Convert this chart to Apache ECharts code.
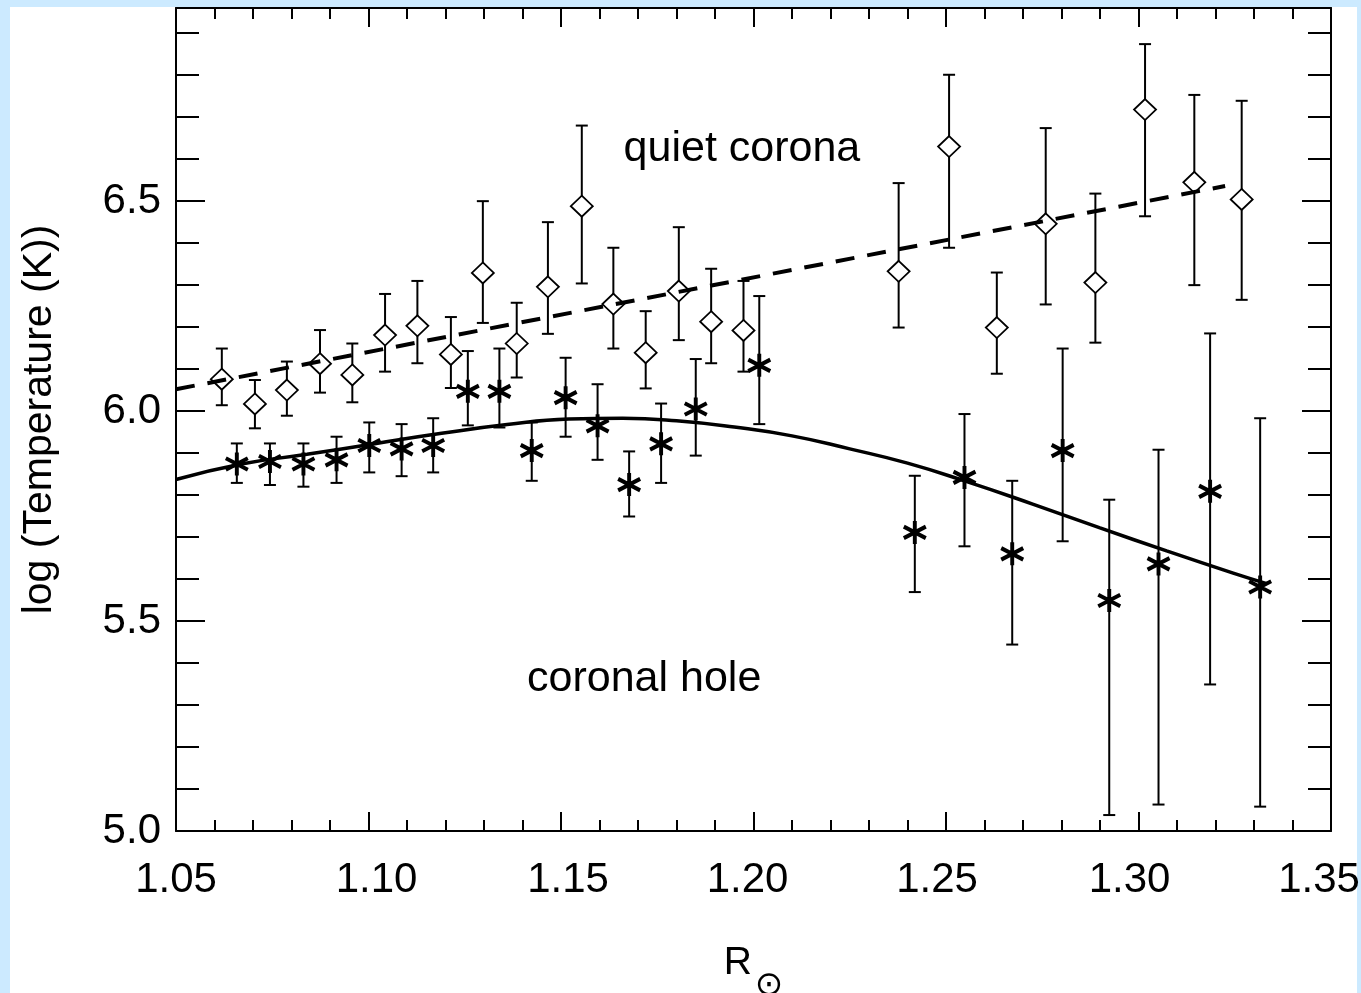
<!DOCTYPE html>
<html>
<head>
<meta charset="utf-8">
<script src="https://cdn.jsdelivr.net/npm/echarts@6/dist/echarts.min.js"></script>
<style>
html,body{margin:0;padding:0;background:#cceaff;width:1361px;height:993px;overflow:hidden;}
#chart{position:absolute;left:0;top:0;width:1361px;height:993px;}
</style>
</head>
<body>
<div id="chart"></div>
<script>
// ---- data ----
const quietX  = [1.0619, 1.0705, 1.0788, 1.0874, 1.0958, 1.1043, 1.1127, 1.1214, 1.1297, 1.1385, 1.1466, 1.1554, 1.1636, 1.1720, 1.1806, 1.1890, 1.1974, 1.2377, 1.2508, 1.2632, 1.2759, 1.2888, 1.3017, 1.3145, 1.3268];
const quietY  = [6.076, 6.017, 6.050, 6.113, 6.086, 6.181, 6.203, 6.135, 6.329, 6.161, 6.296, 6.488, 6.255, 6.139, 6.286, 6.213, 6.192, 6.333, 6.630, 6.199, 6.446, 6.306, 6.718, 6.545, 6.504];
const quietHi = [6.149, 6.074, 6.118, 6.193, 6.161, 6.279, 6.310, 6.224, 6.500, 6.258, 6.450, 6.680, 6.389, 6.238, 6.438, 6.339, 6.310, 6.543, 6.801, 6.330, 6.674, 6.518, 6.874, 6.753, 6.739];
const quietLo = [6.014, 5.959, 5.989, 6.044, 6.021, 6.094, 6.114, 6.055, 6.210, 6.080, 6.184, 6.304, 6.149, 6.054, 6.169, 6.114, 6.094, 6.199, 6.389, 6.089, 6.254, 6.163, 6.464, 6.300, 6.265];

const holeX  = [1.0658, 1.0744, 1.0831, 1.0917, 1.1002, 1.1086, 1.1168, 1.1258, 1.1340, 1.1424, 1.1512, 1.1595, 1.1677, 1.1760, 1.1850, 1.2015, 1.2419, 1.2548, 1.2672, 1.2803, 1.2924, 1.3052, 1.3186, 1.3316];
const holeY  = [5.874, 5.880, 5.874, 5.884, 5.918, 5.910, 5.918, 6.047, 6.047, 5.906, 6.032, 5.965, 5.825, 5.922, 6.005, 6.109, 5.711, 5.842, 5.660, 5.906, 5.549, 5.636, 5.809, 5.581];
const holeHi = [5.923, 5.923, 5.923, 5.939, 5.973, 5.969, 5.983, 6.143, 6.149, 5.973, 6.127, 6.064, 5.904, 6.018, 6.124, 6.274, 5.846, 5.993, 5.834, 6.149, 5.789, 5.908, 6.185, 5.983];
const holeLo = [5.829, 5.824, 5.820, 5.829, 5.854, 5.845, 5.854, 5.966, 5.961, 5.834, 5.939, 5.884, 5.749, 5.829, 5.894, 5.969, 5.569, 5.678, 5.444, 5.690, 5.038, 5.063, 5.349, 5.058];

const quietFitX = [1.05, 1.3225];
const quietFitY = [6.052, 6.536];

const holeFitX = [1.050, 1.067, 1.084, 1.102, 1.119, 1.136, 1.152, 1.166, 1.180, 1.195, 1.2100, 1.2250, 1.2400, 1.2554, 1.2727, 1.2900, 1.3073, 1.3246, 1.3333];
const holeFitY = [5.837, 5.874, 5.897, 5.923, 5.947, 5.968, 5.981, 5.983, 5.977, 5.962, 5.941, 5.910, 5.876, 5.832, 5.778, 5.722, 5.667, 5.614, 5.589];

const annotX = [1.197, 1.1716];
const annotY = [6.624, 5.361];
const annotText = ['quiet corona', 'coronal hole'];

const xMin = 1.05, xMax = 1.35, xMajor = 0.05, xMinor = 0.01;
const yMin = 5.0, yMax = 6.96, yMajor = 0.5, yMinor = 0.1;
const xTitle = '{r|R}{s|\u2299}';
const yTitle = 'log (Temperature (K))';

// style only: horizontal nudge of each x tick label (px), as in the reference
const xLabelShift = [0, 8, 7, -6, -9, -9, -12];

// ---- chart ----
const FONT = 'Liberation Sans, Arial, Helvetica, sans-serif';
const zip = (a, b) => a.map((v, i) => [v, b[i]]);
const zip3 = (a, b, c) => a.map((v, i) => [v, b[i], c[i]]);

function errRender(params, api) {
  const x = api.value(0);
  const pHi = api.coord([x, api.value(1)]);
  const pLo = api.coord([x, api.value(2)]);
  const cap = 6;
  const st = { stroke: '#000', lineWidth: 2 };
  return {
    type: 'group',
    children: [
      { type: 'line', shape: { x1: pHi[0], y1: pHi[1], x2: pLo[0], y2: pLo[1] }, style: st },
      { type: 'line', shape: { x1: pHi[0] - cap, y1: pHi[1], x2: pHi[0] + cap, y2: pHi[1] }, style: st },
      { type: 'line', shape: { x1: pLo[0] - cap, y1: pLo[1], x2: pLo[0] + cap, y2: pLo[1] }, style: st }
    ]
  };
}
function textRender(params, api) {
  const p = api.coord([api.value(0), api.value(1)]);
  return {
    type: 'text', x: p[0], y: p[1],
    style: { text: annotText[params.dataIndex], fill: '#000', font: '43px ' + FONT, align: 'center', verticalAlign: 'middle' }
  };
}

const xRich = {};
xLabelShift.forEach((s, i) => {
  xRich['p' + i] = { fontSize: 42, fontFamily: FONT, color: '#000',
    padding: s >= 0 ? [0, 0, 0, 2 * s] : [0, -2 * s, 0, 0] };
});

const axLine = { show: true, lineStyle: { color: '#000', width: 2 } };
function xAx(pos, interval, len, labels) {
  return {
    type: 'value', position: pos, min: xMin, max: xMax, interval: interval,
    axisLine: labels !== null ? axLine : { show: false },
    axisTick: { show: true, inside: true, length: len, lineStyle: { color: '#000', width: 2 } },
    splitLine: { show: false },
    axisLabel: labels ? { show: true, color: '#000', fontSize: 42, fontFamily: FONT, margin: 28, rich: xRich,
      formatter: v => '{p' + Math.round((v - xMin) / xMajor) + '|' + v.toFixed(2) + '}' } : { show: false }
  };
}
function yAx(pos, interval, len, labels) {
  return {
    type: 'value', position: pos, min: yMin, max: yMax, interval: interval,
    axisLine: labels !== null ? axLine : { show: false },
    axisTick: { show: true, inside: true, length: len, lineStyle: { color: '#000', width: 2 } },
    splitLine: { show: false },
    axisLabel: labels ? { show: true, color: '#000', fontSize: 42, fontFamily: FONT, margin: 15,
      formatter: v => (Math.abs(v / yMajor - Math.round(v / yMajor)) < 1e-6 ? v.toFixed(1) : '') } : { show: false }
  };
}

const xAxes = [
  xAx('bottom', xMajor, 19, true),
  xAx('bottom', xMinor, 11, null),
  xAx('top', xMajor, 19, false),
  xAx('top', xMinor, 11, null)
];
Object.assign(xAxes[0], {
  name: xTitle, nameLocation: 'middle', nameGap: 113,
  nameTextStyle: {
    color: '#000', fontFamily: FONT,
    rich: {
      r: { fontSize: 39, fontFamily: FONT, color: '#000', verticalAlign: 'top', lineHeight: 44 },
      s: { fontSize: 34, fontFamily: 'DejaVu Sans', color: '#000', verticalAlign: 'bottom', lineHeight: 59, padding: [0, 0, 0, 3] }
    }
  }
});
const yAxes = [
  yAx('left', yMajor, 29, true),
  yAx('left', yMinor, 23, null),
  yAx('right', yMajor, 29, false),
  yAx('right', yMinor, 23, null)
];
Object.assign(yAxes[0], {
  name: yTitle, nameLocation: 'middle', nameRotate: 90, nameGap: 116,
  nameTextStyle: { color: '#000', fontSize: 41, fontFamily: FONT }
});

const asterisk = 'path://M10,0 L10,20 M1.34,5 L18.66,15 M1.34,15 L18.66,5';

const option = {
  animation: false,
  backgroundColor: '#cceaff',
  textStyle: { color: '#000' },
  graphic: [
    { type: 'rect', left: 10, top: 7, z: -100, silent: true,
      shape: { width: 1347, height: 986 }, style: { fill: '#ffffff' } }
  ],
  grid: { left: 176, right: 30, top: 8, bottom: 162, containLabel: false, outerBoundsMode: 'none' },
  xAxis: xAxes,
  yAxis: yAxes,
  series: [
    { type: 'custom', name: 'quietErr', renderItem: errRender, data: zip3(quietX, quietHi, quietLo),
      xAxisIndex: 0, yAxisIndex: 0, z: 1, encode: { x: 0, y: [1, 2] } },
    { type: 'custom', name: 'holeErr', renderItem: errRender, data: zip3(holeX, holeHi, holeLo),
      xAxisIndex: 0, yAxisIndex: 0, z: 1, encode: { x: 0, y: [1, 2] } },
    { type: 'scatter', name: 'quiet', data: zip(quietX, quietY), symbol: 'diamond', symbolSize: [22, 21],
      itemStyle: { color: '#ffffff', opacity: 1, borderColor: '#000', borderWidth: 1.8 }, z: 6 },
    { type: 'scatter', name: 'hole', data: zip(holeX, holeY), symbol: asterisk, symbolSize: [22, 23],
      itemStyle: { color: 'rgba(0,0,0,0)', opacity: 1, borderColor: '#000', borderWidth: 4 }, z: 6 },
    { type: 'line', name: 'quietFit', data: zip(quietFitX, quietFitY), symbol: 'none',
      lineStyle: { color: '#000', width: 4, type: [19, 13] }, z: 7 },
    { type: 'line', name: 'holeFit', data: zip(holeFitX, holeFitY), symbol: 'none', smooth: 0.5,
      lineStyle: { color: '#000', width: 3.5 }, z: 7 },
    { type: 'custom', name: 'annot', renderItem: textRender, data: zip(annotX, annotY),
      xAxisIndex: 0, yAxisIndex: 0, z: 8, clip: false, encode: { x: 0, y: 1 } }
  ]
};

const chart = echarts.init(document.getElementById('chart'), null, { renderer: 'canvas' });
chart.setOption(option);
</script>
</body>
</html>
